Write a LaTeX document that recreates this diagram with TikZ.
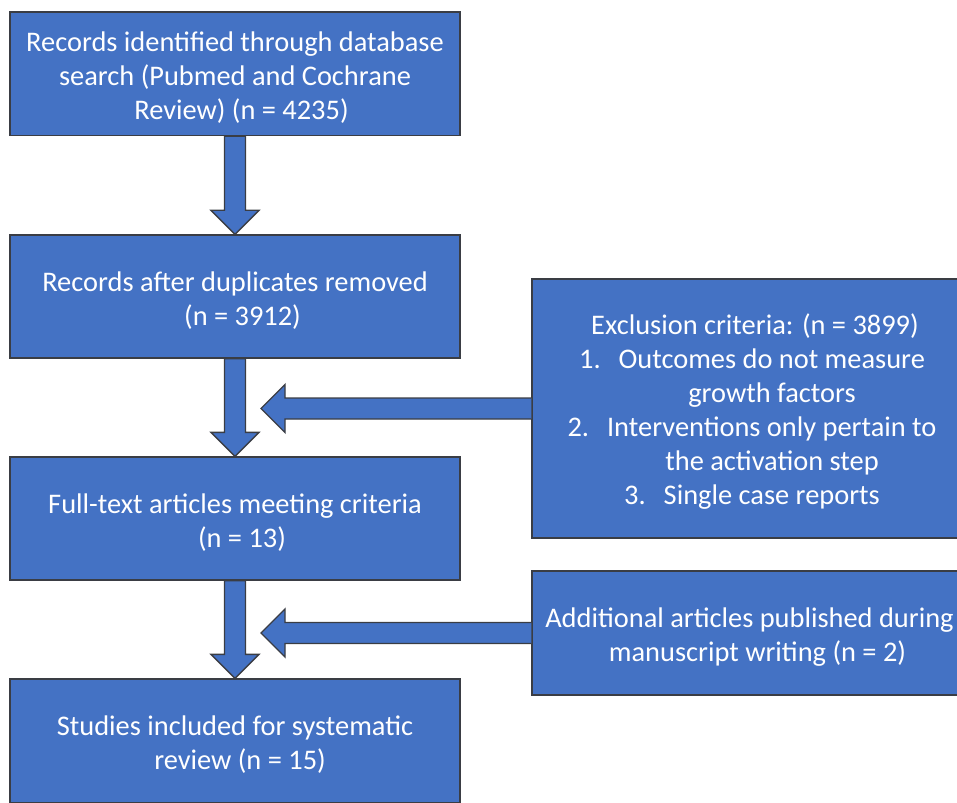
\documentclass[tikz,border=0pt]{standalone}
\usepackage{fontspec}
\setmainfont{Carlito}
\usetikzlibrary{calc}
\definecolor{boxblue}{HTML}{4472C4}
\definecolor{edgegray}{HTML}{3A3D44}
\newcommand{\topstrut}{\rule{0pt}{27pt}}
\begin{document}
\begin{tikzpicture}[x=1pt,y=-1pt,
  box/.style={rectangle, draw=edgegray, line width=1.3pt, fill=boxblue, text=white,
    font=\fontsize{28.4}{34}\selectfont, align=center, inner sep=0pt},
  blockarrow/.style={draw=edgegray, line width=1.3pt, fill=boxblue, line join=miter}]
\useasboundingbox (0,0) rectangle (957,802);
\node[box, minimum width=450pt, minimum height=123.5pt] (b1) at (235,73.75)
  {\topstrut Records identified through database\\search (Pubmed and Cochrane\\\hspace*{13pt}Review) (n = 4235)};
\node[box, minimum width=450pt, minimum height=123pt] (b2) at (235,296.5)
  {\topstrut Records after duplicates removed\\\hspace*{15pt}(n = 3912)};
\node[box, minimum width=450pt, minimum height=123pt] (b3) at (235,518.5)
  {\topstrut Full-text articles meeting criteria\\\hspace*{14pt}(n = 13)};
\node[box, minimum width=450pt, minimum height=124pt] (b4) at (235,741)
  {\topstrut Studies included for systematic\\\hspace*{10pt}review (n = 15)};
\node[box, minimum width=440pt, minimum height=259pt] (r1) at (752,408.5)
  {\topstrut\hspace*{6pt}Exclusion criteria: (n = 3899)\\
   1.\hspace{18pt}Outcomes do not measure\\
   \hspace*{40pt}growth factors\\
   2.\hspace{18pt}Interventions only pertain to\\
   \hspace*{40pt}the activation step\\
   3.\hspace{18pt}Single case reports};
\node[box, minimum width=440pt, minimum height=124pt] (r2) at (752,633)
  {\topstrut\hspace*{-5pt}Additional articles published during\\\hspace*{11pt}manuscript writing (n = 2)};
% down arrows
\foreach \a/\b in {b1/b2, b2/b3, b3/b4}{
  \draw[blockarrow] ($(\a.south)+(-10.5,0)$) -- ($(\a.south)+(10.5,0)$)
    -- ($(\b.north)+(10.5,-24)$) -- ($(\b.north)+(24,-24)$) -- (\b.north)
    -- ($(\b.north)+(-24,-24)$) -- ($(\b.north)+(-10.5,-24)$) -- cycle;
}
% left arrows
\foreach \r/\b in {r1/b2, r2/b3}{
  \coordinate (tip\r) at ($(\r.west -| \b.south)+(26,0)$);
  \draw[blockarrow] ($(\r.west)+(0,-10.5)$) -- ($(tip\r)+(24,-10.5)$)
    -- ($(tip\r)+(24,-24)$) -- (tip\r) -- ($(tip\r)+(24,24)$)
    -- ($(tip\r)+(24,10.5)$) -- ($(\r.west)+(0,10.5)$);
}
\end{tikzpicture}
\end{document}
